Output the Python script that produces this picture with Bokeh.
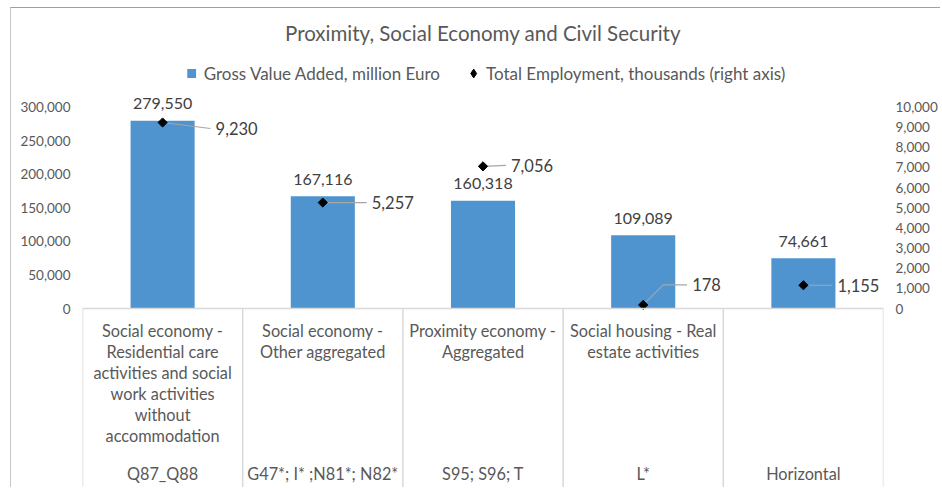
import math
from bokeh.plotting import figure
from bokeh.models import (Range1d, LinearAxis, FixedTicker, NumeralTickFormatter,
                          Legend, LegendItem, ColumnDataSource)
from bokeh.layouts import column
from bokeh.embed import file_html
from bokeh.resources import INLINE
from bokeh.core.properties import value

# ---------------- data ----------------
TITLE = "Proximity, Social Economy and Civil Security"
SECTORS = [
    "Social economy -\nResidential care\nactivities and social\nwork activities\nwithout\naccommodation",
    "Social economy -\nOther aggregated",
    "Proximity economy -\nAggregated",
    "Social housing - Real\nestate activities",
    "",
]
CODES = ["Q87_Q88", "G47*; I* ;N81*; N82*", "S95; S96; T", "L*", "Horizontal"]
GVA = [279550, 167116, 160318, 109089, 74661]          # million Euro
EMP = [9230, 5257, 7056, 178, 1155]                    # thousands
GVA_TICKS = [0, 50000, 100000, 150000, 200000, 250000, 300000]
EMP_TICKS = [0, 1000, 2000, 3000, 4000, 5000, 6000, 7000, 8000, 9000, 10000]
SERIES = ["Gross Value Added, million Euro", "Total Employment, thousands (right axis)"]

# ---------------- style / layout ----------------
FONT = value("Lato")
BAR_COLOR = "#4F94CF"
GRID_COLOR = "#D9D9D9"
AXIS_TEXT = "#595959"
LABEL_TEXT = "#404040"
LEADER = "#A6A6A6"
W = 929
HEADER_H = 80
CHART_H = 399            # plot area + category table
LEFT_B, FRAME_W = 71, 803
RIGHT_B = W - LEFT_B - FRAME_W
ZERO_PX = 220            # px from top of chart frame down to the zero line
SPAN_PX = 201.5          # px between 0 and the top tick
# employment label placement (screen px relative to the diamond)
EMP_LABEL_DX = [53, 49, 28, 49, 34]
EMP_LABEL_DY = [6, 0, -1, -20, 0]
EMP_ELBOW_DX = [0, 0, 0, 20, 0]

n = len(SECTORS)
xc = [i + 0.5 for i in range(n)]
units_per_px = GVA_TICKS[-1] / SPAN_PX
GVA_END = ZERO_PX * units_per_px
GVA_START = -(CHART_H - ZERO_PX) * units_per_px
ratio = EMP_TICKS[-1] / GVA_TICKS[-1]
EMP_START, EMP_END = GVA_START * ratio, GVA_END * ratio

# ---------------- header (title + legend) ----------------
h = figure(width=W, height=HEADER_H, x_range=Range1d(0, 1), y_range=Range1d(0, 1),
           output_backend="svg", toolbar_location=None, title=TITLE,
           min_border_left=5, min_border_right=20, min_border_top=41, min_border_bottom=0,
           x_axis_location=None, y_axis_location=None, outline_line_color=None)
h.xgrid.visible = False
h.ygrid.visible = False
h.title.align = "center"
h.title.text_font = "Lato"
h.title.text_font_size = "20.5px"
h.title.text_font_style = "normal"
h.title.text_color = AXIS_TEXT
# legend proxies: kept outside the header's visible range
proxy = ColumnDataSource(dict(x=[-1], y=[-1]))
sq = h.scatter(x="x", y="y", source=proxy, marker="square",
               size=9, fill_color=BAR_COLOR, line_color=None)
dl = h.scatter(x="x", y="y", source=proxy, marker="diamond", size=10,
               fill_color="black", line_color="black")
legend = Legend(items=[LegendItem(label=SERIES[0], renderers=[sq]),
                       LegendItem(label=SERIES[1], renderers=[dl])],
                orientation="horizontal", location="bottom_center", border_line_color=None,
                background_fill_alpha=0, label_text_font="Lato", label_text_font_size="17px",
                label_text_color=AXIS_TEXT, glyph_width=22, glyph_height=22,
                label_standoff=2, spacing=22, padding=0, margin=4)
h.add_layout(legend, "center")

# ---------------- chart + category table ----------------
p = figure(width=W, height=CHART_H, x_range=Range1d(0, n),
           y_range=Range1d(GVA_START, GVA_END), output_backend="svg", toolbar_location=None,
           min_border_left=LEFT_B, min_border_right=RIGHT_B, min_border_top=0,
           min_border_bottom=0, x_axis_location=None, y_axis_location=None,
           outline_line_color=None, background_fill_color="white", border_fill_color="white")
p.xgrid.visible = False
p.ygrid.visible = False
p.extra_y_ranges = {"emp": Range1d(EMP_START, EMP_END)}

def style_axis(ax):
    ax.axis_line_color = None
    ax.major_tick_line_color = None
    ax.minor_tick_line_color = None
    ax.major_tick_out = 0
    ax.major_tick_in = 0
    ax.minor_tick_out = 0
    ax.major_label_text_font = "Lato"
    ax.major_label_text_font_size = "13.5px"
    ax.major_label_text_color = AXIS_TEXT
    ax.major_label_standoff = 12
    ax.formatter = NumeralTickFormatter(format="0,0")

yl = LinearAxis(ticker=FixedTicker(ticks=GVA_TICKS))
style_axis(yl)
p.add_layout(yl, "left")
yr = LinearAxis(y_range_name="emp", ticker=FixedTicker(ticks=EMP_TICKS))
style_axis(yr)
p.add_layout(yr, "right")

src = ColumnDataSource(dict(
    x=xc, gva=GVA, emp=EMP,
    gva_lbl=[f"{v:,}" for v in GVA], emp_lbl=[f"{v:,}" for v in EMP],
    dx=EMP_LABEL_DX, dy=EMP_LABEL_DY))

p.vbar(x="x", top="gva", width=0.4, source=src, fill_color=BAR_COLOR, line_color=None)
p.text(x="x", y="gva", text="gva_lbl", source=src, text_font=FONT, text_font_size="16px",
       text_color=LABEL_TEXT, text_align="center", text_baseline="middle", y_offset=-17)

# leader lines (pixel offsets converted to data units)
ppx = FRAME_W / n
ppe = CHART_H / (EMP_END - EMP_START)
lx, ly = [], []
for x, e, dx, dy, ex in zip(xc, EMP, EMP_LABEL_DX, EMP_LABEL_DY, EMP_ELBOW_DX):
    ey = e - dy / ppe
    lx.append([x, x + ex / ppx, x + (dx - 5) / ppx])
    ly.append([e, ey if ex else e, ey])
p.multi_line(xs=lx, ys=ly, line_color=LEADER, line_width=1.2, y_range_name="emp")

p.scatter(x="x", y="emp", source=src, marker="square", angle=math.pi / 4, size=6.5,
          fill_color="black", line_color="black", y_range_name="emp")
p.text(x="x", y="emp", text="emp_lbl", source=src, y_range_name="emp", text_font=FONT,
       text_font_size="16.5px", text_color=LABEL_TEXT, text_align="left",
       text_baseline="middle", x_offset="dx", y_offset="dy")

# category table below the zero line
edges = list(range(n + 1))
p.segment(x0=[0], y0=[0], x1=[n], y1=[0], line_color=GRID_COLOR, line_width=1.5)
p.segment(x0=edges, y0=[0] * len(edges), x1=edges, y1=[GVA_START] * len(edges),
          line_color=GRID_COLOR, line_width=1.5)
tsrc = ColumnDataSource(dict(x=xc, base=[0] * n, name=SECTORS, code=CODES))
p.text(x="x", y="base", text="name", source=tsrc, text_font=FONT, text_font_size="16.3px",
       text_color=AXIS_TEXT, text_align="center", text_baseline="top", y_offset=12,
       text_line_height=1.11)
p.text(x="x", y="base", text="code", source=tsrc, text_font=FONT, text_font_size="16.3px",
       text_color=AXIS_TEXT, text_align="center", text_baseline="middle", y_offset=165)

layout = column(h, p, spacing=0, margin=(7, 0, 0, 10),
                styles={"border-top": "1px solid #A0A0A0", "border-left": "1px solid #C8C8C8"})
open("out.html", "w").write(file_html(layout, INLINE))
